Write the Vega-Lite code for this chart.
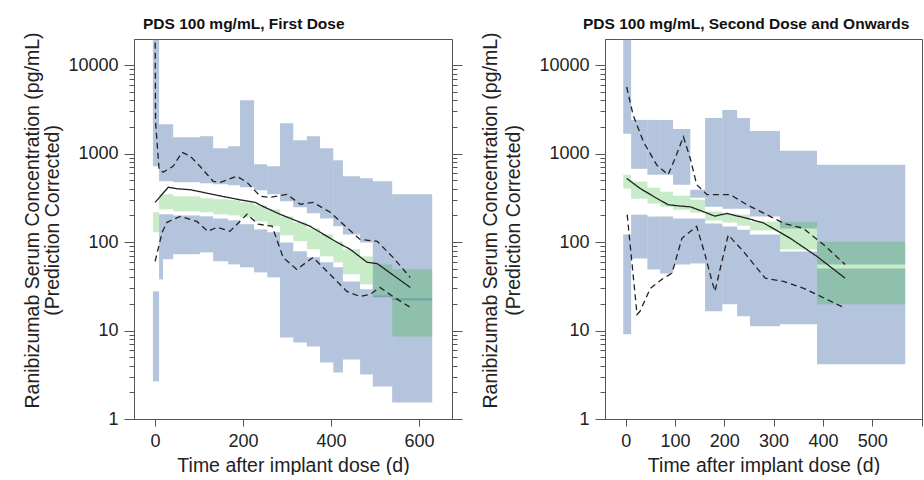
{
  "$schema": "https://vega.github.io/schema/vega-lite/v6.json",
  "background": "white",
  "padding": {"left": 22, "top": 16, "right": 0, "bottom": 0},
  "spacing": 17,
  "config": {
    "font": "Liberation Sans",
    "view": {"stroke": "#555", "strokeWidth": 1},
    "axis": {"grid": false, "domainColor": "#555", "tickColor": "#555", "labelColor": "#222", "titleColor": "#222", "labelFont": "Liberation Sans", "titleFont": "Liberation Sans", "labelFontSize": 18, "titleFontSize": 19.5, "titleFontWeight": "normal", "labelOverlap": false},
    "title": {"font": "Liberation Sans", "fontSize": 15.5, "fontWeight": "bold", "color": "#111", "anchor": "start", "baseline": "alphabetic", "offset": -1, "frame": "group"}
  },
  "datasets": {
    "bands": [
      {"panel": "L", "band": "upper", "x0": -5, "x1": 9, "lo": 718, "hi": 40000},
      {"panel": "L", "band": "median", "x0": -5, "x1": 9, "lo": 129, "hi": 217},
      {"panel": "L", "band": "lower", "x0": -5, "x1": 9, "lo": 2.66, "hi": 27.7},
      {"panel": "L", "band": "upper", "x0": 9, "x1": 18, "lo": 486, "hi": 2143},
      {"panel": "L", "band": "median", "x0": 9, "x1": 18, "lo": 234, "hi": 347},
      {"panel": "L", "band": "lower", "x0": 9, "x1": 18, "lo": 37.8, "hi": 206},
      {"panel": "L", "band": "upper", "x0": 18, "x1": 41, "lo": 486, "hi": 2143},
      {"panel": "L", "band": "median", "x0": 18, "x1": 41, "lo": 234, "hi": 347},
      {"panel": "L", "band": "lower", "x0": 18, "x1": 41, "lo": 63.7, "hi": 206},
      {"panel": "L", "band": "upper", "x0": 41, "x1": 102, "lo": 473, "hi": 1528},
      {"panel": "L", "band": "median", "x0": 41, "x1": 102, "lo": 222, "hi": 329},
      {"panel": "L", "band": "lower", "x0": 41, "x1": 102, "lo": 72.6, "hi": 200},
      {"panel": "L", "band": "upper", "x0": 102, "x1": 132, "lo": 461, "hi": 1570},
      {"panel": "L", "band": "median", "x0": 102, "x1": 132, "lo": 217, "hi": 312},
      {"panel": "L", "band": "lower", "x0": 102, "x1": 132, "lo": 76.4, "hi": 195},
      {"panel": "L", "band": "upper", "x0": 132, "x1": 166, "lo": 450, "hi": 1148},
      {"panel": "L", "band": "median", "x0": 132, "x1": 166, "lo": 206, "hi": 304},
      {"panel": "L", "band": "lower", "x0": 132, "x1": 166, "lo": 60.5, "hi": 185},
      {"panel": "L", "band": "upper", "x0": 166, "x1": 193, "lo": 438, "hi": 1208},
      {"panel": "L", "band": "median", "x0": 166, "x1": 193, "lo": 200, "hi": 297},
      {"panel": "L", "band": "lower", "x0": 166, "x1": 193, "lo": 55.9, "hi": 176},
      {"panel": "L", "band": "upper", "x0": 193, "x1": 225, "lo": 416, "hi": 4009},
      {"panel": "L", "band": "median", "x0": 193, "x1": 225, "lo": 190, "hi": 281},
      {"panel": "L", "band": "lower", "x0": 193, "x1": 225, "lo": 51.8, "hi": 159},
      {"panel": "L", "band": "upper", "x0": 225, "x1": 255, "lo": 384, "hi": 757},
      {"panel": "L", "band": "median", "x0": 225, "x1": 255, "lo": 171, "hi": 260},
      {"panel": "L", "band": "lower", "x0": 225, "x1": 255, "lo": 45.4, "hi": 139},
      {"panel": "L", "band": "upper", "x0": 255, "x1": 284, "lo": 347, "hi": 718},
      {"panel": "L", "band": "median", "x0": 255, "x1": 284, "lo": 151, "hi": 234},
      {"panel": "L", "band": "lower", "x0": 255, "x1": 284, "lo": 39.9, "hi": 129},
      {"panel": "L", "band": "upper", "x0": 284, "x1": 314, "lo": 289, "hi": 2203},
      {"panel": "L", "band": "median", "x0": 284, "x1": 314, "lo": 119, "hi": 195},
      {"panel": "L", "band": "lower", "x0": 284, "x1": 314, "lo": 8.35, "hi": 99},
      {"panel": "L", "band": "upper", "x0": 314, "x1": 345, "lo": 247, "hi": 1413},
      {"panel": "L", "band": "median", "x0": 314, "x1": 345, "lo": 102, "hi": 167},
      {"panel": "L", "band": "lower", "x0": 314, "x1": 345, "lo": 7.33, "hi": 78.5},
      {"panel": "L", "band": "upper", "x0": 345, "x1": 375, "lo": 211, "hi": 1570},
      {"panel": "L", "band": "median", "x0": 345, "x1": 375, "lo": 83, "hi": 143},
      {"panel": "L", "band": "lower", "x0": 345, "x1": 375, "lo": 6.61, "hi": 67.1},
      {"panel": "L", "band": "upper", "x0": 375, "x1": 405, "lo": 185, "hi": 1148},
      {"panel": "L", "band": "median", "x0": 375, "x1": 405, "lo": 68.9, "hi": 122},
      {"panel": "L", "band": "lower", "x0": 375, "x1": 405, "lo": 4.35, "hi": 58.9},
      {"panel": "L", "band": "upper", "x0": 405, "x1": 427, "lo": 151, "hi": 839},
      {"panel": "L", "band": "median", "x0": 405, "x1": 427, "lo": 58.9, "hi": 102},
      {"panel": "L", "band": "lower", "x0": 405, "x1": 427, "lo": 3.36, "hi": 51.8},
      {"panel": "L", "band": "upper", "x0": 427, "x1": 466, "lo": 122, "hi": 553},
      {"panel": "L", "band": "median", "x0": 427, "x1": 466, "lo": 43.1, "hi": 83},
      {"panel": "L", "band": "lower", "x0": 427, "x1": 466, "lo": 4.71, "hi": 35.9},
      {"panel": "L", "band": "upper", "x0": 466, "x1": 495, "lo": 99, "hi": 526},
      {"panel": "L", "band": "median", "x0": 466, "x1": 495, "lo": 33.2, "hi": 68.9},
      {"panel": "L", "band": "lower", "x0": 466, "x1": 495, "lo": 3.19, "hi": 29.2},
      {"panel": "L", "band": "upper", "x0": 495, "x1": 539, "lo": 23.7, "hi": 486},
      {"panel": "L", "band": "median", "x0": 495, "x1": 539, "lo": 24.3, "hi": 55.9},
      {"panel": "L", "band": "lower", "x0": 495, "x1": 539, "lo": 2.33, "hi": 24.9},
      {"panel": "L", "band": "upper", "x0": 539, "x1": 630, "lo": 21.9, "hi": 347},
      {"panel": "L", "band": "median", "x0": 539, "x1": 630, "lo": 8.58, "hi": 49.1},
      {"panel": "L", "band": "lower", "x0": 539, "x1": 630, "lo": 1.54, "hi": 23.1},

      {"panel": "R", "band": "upper", "x0": -5, "x1": 11, "lo": 1670, "hi": 40000},
      {"panel": "R", "band": "median", "x0": -5, "x1": 11, "lo": 401, "hi": 576},
      {"panel": "R", "band": "lower", "x0": -5, "x1": 11, "lo": 9.08, "hi": 122},
      {"panel": "R", "band": "upper", "x0": 11, "x1": 44, "lo": 673, "hi": 2399},
      {"panel": "R", "band": "median", "x0": 11, "x1": 44, "lo": 309, "hi": 481},
      {"panel": "R", "band": "lower", "x0": 11, "x1": 44, "lo": 65.2, "hi": 204},
      {"panel": "R", "band": "upper", "x0": 44, "x1": 70, "lo": 576, "hi": 2399},
      {"panel": "R", "band": "median", "x0": 44, "x1": 70, "lo": 272, "hi": 411},
      {"panel": "R", "band": "lower", "x0": 44, "x1": 70, "lo": 49, "hi": 194},
      {"panel": "R", "band": "upper", "x0": 70, "x1": 96, "lo": 576, "hi": 2399},
      {"panel": "R", "band": "median", "x0": 70, "x1": 96, "lo": 251, "hi": 371},
      {"panel": "R", "band": "lower", "x0": 70, "x1": 96, "lo": 44.2, "hi": 194},
      {"panel": "R", "band": "upper", "x0": 96, "x1": 131, "lo": 444, "hi": 1900},
      {"panel": "R", "band": "median", "x0": 96, "x1": 131, "lo": 232, "hi": 334},
      {"panel": "R", "band": "lower", "x0": 96, "x1": 131, "lo": 55.8, "hi": 184},
      {"panel": "R", "band": "upper", "x0": 131, "x1": 161, "lo": 317, "hi": 390},
      {"panel": "R", "band": "median", "x0": 131, "x1": 161, "lo": 215, "hi": 301},
      {"panel": "R", "band": "lower", "x0": 131, "x1": 161, "lo": 57.3, "hi": 184},
      {"panel": "R", "band": "upper", "x0": 161, "x1": 196, "lo": 251, "hi": 2529},
      {"panel": "R", "band": "median", "x0": 161, "x1": 196, "lo": 175, "hi": 221},
      {"panel": "R", "band": "lower", "x0": 161, "x1": 196, "lo": 16.5, "hi": 162},
      {"panel": "R", "band": "upper", "x0": 196, "x1": 226, "lo": 238, "hi": 3112},
      {"panel": "R", "band": "median", "x0": 196, "x1": 226, "lo": 166, "hi": 210},
      {"panel": "R", "band": "lower", "x0": 196, "x1": 226, "lo": 19.8, "hi": 150},
      {"panel": "R", "band": "upper", "x0": 226, "x1": 252, "lo": 238, "hi": 2529},
      {"panel": "R", "band": "median", "x0": 226, "x1": 252, "lo": 153, "hi": 204},
      {"panel": "R", "band": "lower", "x0": 226, "x1": 252, "lo": 14.5, "hi": 138},
      {"panel": "R", "band": "upper", "x0": 252, "x1": 313, "lo": 194, "hi": 1803},
      {"panel": "R", "band": "median", "x0": 252, "x1": 313, "lo": 135, "hi": 170},
      {"panel": "R", "band": "lower", "x0": 252, "x1": 313, "lo": 11.2, "hi": 122},
      {"panel": "R", "band": "upper", "x0": 313, "x1": 388, "lo": 142, "hi": 1074},
      {"panel": "R", "band": "median", "x0": 313, "x1": 388, "lo": 82.3, "hi": 170},
      {"panel": "R", "band": "lower", "x0": 313, "x1": 388, "lo": 11.8, "hi": 78.2},
      {"panel": "R", "band": "upper", "x0": 388, "x1": 567, "lo": 55.8, "hi": 747},
      {"panel": "R", "band": "median", "x0": 388, "x1": 567, "lo": 19.8, "hi": 101},
      {"panel": "R", "band": "lower", "x0": 388, "x1": 567, "lo": 4.17, "hi": 50.3}
    ],
    "lines": [
      {"panel": "L", "series": "median", "day": 0, "value": 281},
      {"panel": "L", "series": "median", "day": 30, "value": 416},
      {"panel": "L", "series": "median", "day": 50, "value": 400},
      {"panel": "L", "series": "median", "day": 80, "value": 390},
      {"panel": "L", "series": "median", "day": 114, "value": 360},
      {"panel": "L", "series": "median", "day": 152, "value": 329},
      {"panel": "L", "series": "median", "day": 193, "value": 300},
      {"panel": "L", "series": "median", "day": 227, "value": 281},
      {"panel": "L", "series": "median", "day": 245, "value": 253},
      {"panel": "L", "series": "median", "day": 284, "value": 206},
      {"panel": "L", "series": "median", "day": 352, "value": 151},
      {"panel": "L", "series": "median", "day": 414, "value": 99},
      {"panel": "L", "series": "median", "day": 443, "value": 83},
      {"panel": "L", "series": "median", "day": 482, "value": 59},
      {"panel": "L", "series": "median", "day": 505, "value": 57},
      {"panel": "L", "series": "median", "day": 580, "value": 30.7},
      {"panel": "L", "series": "p95", "day": 0, "value": 30000},
      {"panel": "L", "series": "p95", "day": 1, "value": 2260},
      {"panel": "L", "series": "p95", "day": 9, "value": 664},
      {"panel": "L", "series": "p95", "day": 18, "value": 614},
      {"panel": "L", "series": "p95", "day": 41, "value": 718},
      {"panel": "L", "series": "p95", "day": 61, "value": 1033},
      {"panel": "L", "series": "p95", "day": 80, "value": 933},
      {"panel": "L", "series": "p95", "day": 102, "value": 718},
      {"panel": "L", "series": "p95", "day": 132, "value": 486},
      {"panel": "L", "series": "p95", "day": 148, "value": 473},
      {"panel": "L", "series": "p95", "day": 186, "value": 553},
      {"panel": "L", "series": "p95", "day": 209, "value": 473},
      {"panel": "L", "series": "p95", "day": 239, "value": 329},
      {"panel": "L", "series": "p95", "day": 261, "value": 320},
      {"panel": "L", "series": "p95", "day": 300, "value": 346},
      {"panel": "L", "series": "p95", "day": 330, "value": 267},
      {"panel": "L", "series": "p95", "day": 359, "value": 281},
      {"panel": "L", "series": "p95", "day": 398, "value": 217},
      {"panel": "L", "series": "p95", "day": 427, "value": 160},
      {"panel": "L", "series": "p95", "day": 466, "value": 107},
      {"panel": "L", "series": "p95", "day": 505, "value": 102},
      {"panel": "L", "series": "p95", "day": 541, "value": 67},
      {"panel": "L", "series": "p95", "day": 580, "value": 39.8},
      {"panel": "L", "series": "p5", "day": 0, "value": 60.5},
      {"panel": "L", "series": "p5", "day": 16, "value": 129},
      {"panel": "L", "series": "p5", "day": 27, "value": 167},
      {"panel": "L", "series": "p5", "day": 57, "value": 195},
      {"panel": "L", "series": "p5", "day": 95, "value": 171},
      {"panel": "L", "series": "p5", "day": 120, "value": 132},
      {"panel": "L", "series": "p5", "day": 141, "value": 147},
      {"panel": "L", "series": "p5", "day": 170, "value": 132},
      {"panel": "L", "series": "p5", "day": 209, "value": 206},
      {"panel": "L", "series": "p5", "day": 234, "value": 159},
      {"panel": "L", "series": "p5", "day": 266, "value": 151},
      {"panel": "L", "series": "p5", "day": 291, "value": 67},
      {"panel": "L", "series": "p5", "day": 322, "value": 49},
      {"panel": "L", "series": "p5", "day": 359, "value": 67},
      {"panel": "L", "series": "p5", "day": 398, "value": 43},
      {"panel": "L", "series": "p5", "day": 436, "value": 27.7},
      {"panel": "L", "series": "p5", "day": 466, "value": 24.2},
      {"panel": "L", "series": "p5", "day": 489, "value": 25.6},
      {"panel": "L", "series": "p5", "day": 511, "value": 30.7},
      {"panel": "L", "series": "p5", "day": 541, "value": 24.2},
      {"panel": "L", "series": "p5", "day": 580, "value": 18.3},

      {"panel": "R", "series": "median", "day": 2, "value": 524},
      {"panel": "R", "series": "median", "day": 29, "value": 404},
      {"panel": "R", "series": "median", "day": 63, "value": 312},
      {"panel": "R", "series": "median", "day": 86, "value": 264},
      {"panel": "R", "series": "median", "day": 110, "value": 255},
      {"panel": "R", "series": "median", "day": 131, "value": 250},
      {"panel": "R", "series": "median", "day": 157, "value": 221},
      {"panel": "R", "series": "median", "day": 181, "value": 196},
      {"panel": "R", "series": "median", "day": 205, "value": 211},
      {"panel": "R", "series": "median", "day": 246, "value": 185},
      {"panel": "R", "series": "median", "day": 279, "value": 165},
      {"panel": "R", "series": "median", "day": 334, "value": 110},
      {"panel": "R", "series": "median", "day": 388, "value": 68.7},
      {"panel": "R", "series": "median", "day": 445, "value": 39},
      {"panel": "R", "series": "p95", "day": 2, "value": 5650},
      {"panel": "R", "series": "p95", "day": 15, "value": 2734},
      {"panel": "R", "series": "p95", "day": 36, "value": 1356},
      {"panel": "R", "series": "p95", "day": 63, "value": 741},
      {"panel": "R", "series": "p95", "day": 86, "value": 576},
      {"panel": "R", "series": "p95", "day": 100, "value": 879},
      {"panel": "R", "series": "p95", "day": 117, "value": 1545},
      {"panel": "R", "series": "p95", "day": 131, "value": 879},
      {"panel": "R", "series": "p95", "day": 144, "value": 444},
      {"panel": "R", "series": "p95", "day": 165, "value": 343},
      {"panel": "R", "series": "p95", "day": 212, "value": 343},
      {"panel": "R", "series": "p95", "day": 246, "value": 264},
      {"panel": "R", "series": "p95", "day": 286, "value": 204},
      {"panel": "R", "series": "p95", "day": 320, "value": 163},
      {"panel": "R", "series": "p95", "day": 360, "value": 143},
      {"panel": "R", "series": "p95", "day": 401, "value": 94},
      {"panel": "R", "series": "p95", "day": 445, "value": 55.7},
      {"panel": "R", "series": "p5", "day": 3, "value": 204},
      {"panel": "R", "series": "p5", "day": 23, "value": 15.2},
      {"panel": "R", "series": "p5", "day": 29, "value": 16.5},
      {"panel": "R", "series": "p5", "day": 50, "value": 30},
      {"panel": "R", "series": "p5", "day": 73, "value": 37.8},
      {"panel": "R", "series": "p5", "day": 94, "value": 44.6},
      {"panel": "R", "series": "p5", "day": 114, "value": 110},
      {"panel": "R", "series": "p5", "day": 144, "value": 150},
      {"panel": "R", "series": "p5", "day": 161, "value": 72},
      {"panel": "R", "series": "p5", "day": 175, "value": 35.9},
      {"panel": "R", "series": "p5", "day": 181, "value": 27.7},
      {"panel": "R", "series": "p5", "day": 195, "value": 60},
      {"panel": "R", "series": "p5", "day": 208, "value": 120},
      {"panel": "R", "series": "p5", "day": 239, "value": 78},
      {"panel": "R", "series": "p5", "day": 283, "value": 39},
      {"panel": "R", "series": "p5", "day": 320, "value": 35.9},
      {"panel": "R", "series": "p5", "day": 361, "value": 30},
      {"panel": "R", "series": "p5", "day": 445, "value": 17.9}
    ]
  },
  "hconcat": [
    {
      "width": 318,
      "height": 380,
      "title": {"text": "PDS 100 mg/mL, First Dose", "dx": 9},
      "resolve": {"scale": {"y": "independent"}},
      "layer": [
        {
          "data": {"name": "bands"},
          "transform": [{"filter": "datum.panel == 'L' && datum.band != 'median'"}],
          "mark": {"type": "rect", "clip": true, "color": "#4e76ae", "opacity": 0.43},
          "encoding": {
            "x": {"field": "x0", "type": "quantitative", "scale": {"domain": [-48, 675], "nice": false, "zero": false},
                  "axis": {"values": [0, 200, 400, 600], "tickSize": 7, "labelPadding": 6, "title": "Time after implant dose (d)", "titlePadding": 6}},
            "x2": {"field": "x1"},
            "y": {"field": "lo", "type": "quantitative", "scale": {"type": "log", "domain": [1, 19700], "nice": false},
                  "axis": {"values": [1,2,3,4,5,6,7,8,9,10,20,30,40,50,60,70,80,90,100,200,300,400,500,600,700,800,900,1000,2000,3000,4000,5000,6000,7000,8000,9000,10000],
                           "labelExpr": "indexof([1,10,100,1000,10000], datum.value) >= 0 ? format(datum.value, 'd') : ''",
                           "tickSize": {"condition": {"test": "indexof([1,10,100,1000,10000], datum.value) >= 0", "value": 10}, "value": 5},
                           "labelPadding": 6, "title": ["Ranibizumab Serum Concentration (pg/mL)", "(Prediction Corrected)"], "titlePadding": 5, "titleLineHeight": 20, "titleY": 181}},
            "y2": {"field": "hi"}
          }
        },
        {
          "data": {"name": "bands"},
          "transform": [{"filter": "datum.panel == 'L' && datum.band == 'median'"}],
          "mark": {"type": "rect", "clip": true, "color": "#23b323", "opacity": 0.25},
          "encoding": {
            "x": {"field": "x0", "type": "quantitative"},
            "x2": {"field": "x1"},
            "y": {"field": "lo", "type": "quantitative", "scale": {"type": "log", "domain": [1, 19700], "nice": false}, "axis": null},
            "y2": {"field": "hi"}
          }
        },
        {
          "data": {"name": "lines"},
          "transform": [{"filter": "datum.panel == 'L'"}],
          "mark": {"type": "line", "clip": true, "color": "#222", "strokeWidth": 1.3},
          "encoding": {
            "x": {"field": "day", "type": "quantitative"},
            "y": {"field": "value", "type": "quantitative", "scale": {"type": "log", "domain": [1, 19700], "nice": false},
                  "axis": {"orient": "right", "values": [1,2,3,4,5,6,7,8,9,10,20,30,40,50,60,70,80,90,100,200,300,400,500,600,700,800,900,1000,2000,3000,4000,5000,6000,7000,8000,9000,10000],
                           "labels": false, "title": null, "domain": false,
                           "tickSize": {"condition": {"test": "indexof([1,10,100,1000,10000], datum.value) >= 0", "value": 10}, "value": 5}}},
            "strokeDash": {"field": "series", "type": "nominal", "scale": {"domain": ["median", "p95", "p5"], "range": [[1, 0], [6, 4], [6, 4]]}, "legend": null}
          }
        }
      ]
    },
    {
      "width": 317,
      "height": 380,
      "title": {"text": "PDS 100 mg/mL, Second Dose and Onwards", "dx": -22},
      "resolve": {"scale": {"y": "independent"}},
      "layer": [
        {
          "data": {"name": "bands"},
          "transform": [{"filter": "datum.panel == 'R' && datum.band != 'median'"}],
          "mark": {"type": "rect", "clip": true, "color": "#4e76ae", "opacity": 0.43},
          "encoding": {
            "x": {"field": "x0", "type": "quantitative", "scale": {"domain": [-42, 601], "nice": false, "zero": false},
                  "axis": {"values": [0, 100, 200, 300, 400, 500, 600], "labelExpr": "datum.value == 600 ? '' : datum.label", "tickSize": 7, "labelPadding": 6, "title": "Time after implant dose (d)", "titlePadding": 6}},
            "x2": {"field": "x1"},
            "y": {"field": "lo", "type": "quantitative", "scale": {"type": "log", "domain": [1, 19700], "nice": false},
                  "axis": {"values": [1,2,3,4,5,6,7,8,9,10,20,30,40,50,60,70,80,90,100,200,300,400,500,600,700,800,900,1000,2000,3000,4000,5000,6000,7000,8000,9000,10000],
                           "labelExpr": "indexof([1,10,100,1000,10000], datum.value) >= 0 ? format(datum.value, 'd') : ''",
                           "tickSize": {"condition": {"test": "indexof([1,10,100,1000,10000], datum.value) >= 0", "value": 10}, "value": 5},
                           "labelPadding": 6, "title": ["Ranibizumab Serum Concentration (pg/mL)", "(Prediction Corrected)"], "titlePadding": 15, "titleLineHeight": 23, "titleY": 181}},
            "y2": {"field": "hi"}
          }
        },
        {
          "data": {"name": "bands"},
          "transform": [{"filter": "datum.panel == 'R' && datum.band == 'median'"}],
          "mark": {"type": "rect", "clip": true, "color": "#23b323", "opacity": 0.25},
          "encoding": {
            "x": {"field": "x0", "type": "quantitative"},
            "x2": {"field": "x1"},
            "y": {"field": "lo", "type": "quantitative", "scale": {"type": "log", "domain": [1, 19700], "nice": false}, "axis": null},
            "y2": {"field": "hi"}
          }
        },
        {
          "data": {"name": "lines"},
          "transform": [{"filter": "datum.panel == 'R'"}],
          "mark": {"type": "line", "clip": true, "color": "#222", "strokeWidth": 1.3},
          "encoding": {
            "x": {"field": "day", "type": "quantitative"},
            "y": {"field": "value", "type": "quantitative", "scale": {"type": "log", "domain": [1, 19700], "nice": false}, "axis": null},
            "strokeDash": {"field": "series", "type": "nominal", "scale": {"domain": ["median", "p95", "p5"], "range": [[1, 0], [6, 4], [6, 4]]}, "legend": null}
          }
        }
      ]
    }
  ]
}
